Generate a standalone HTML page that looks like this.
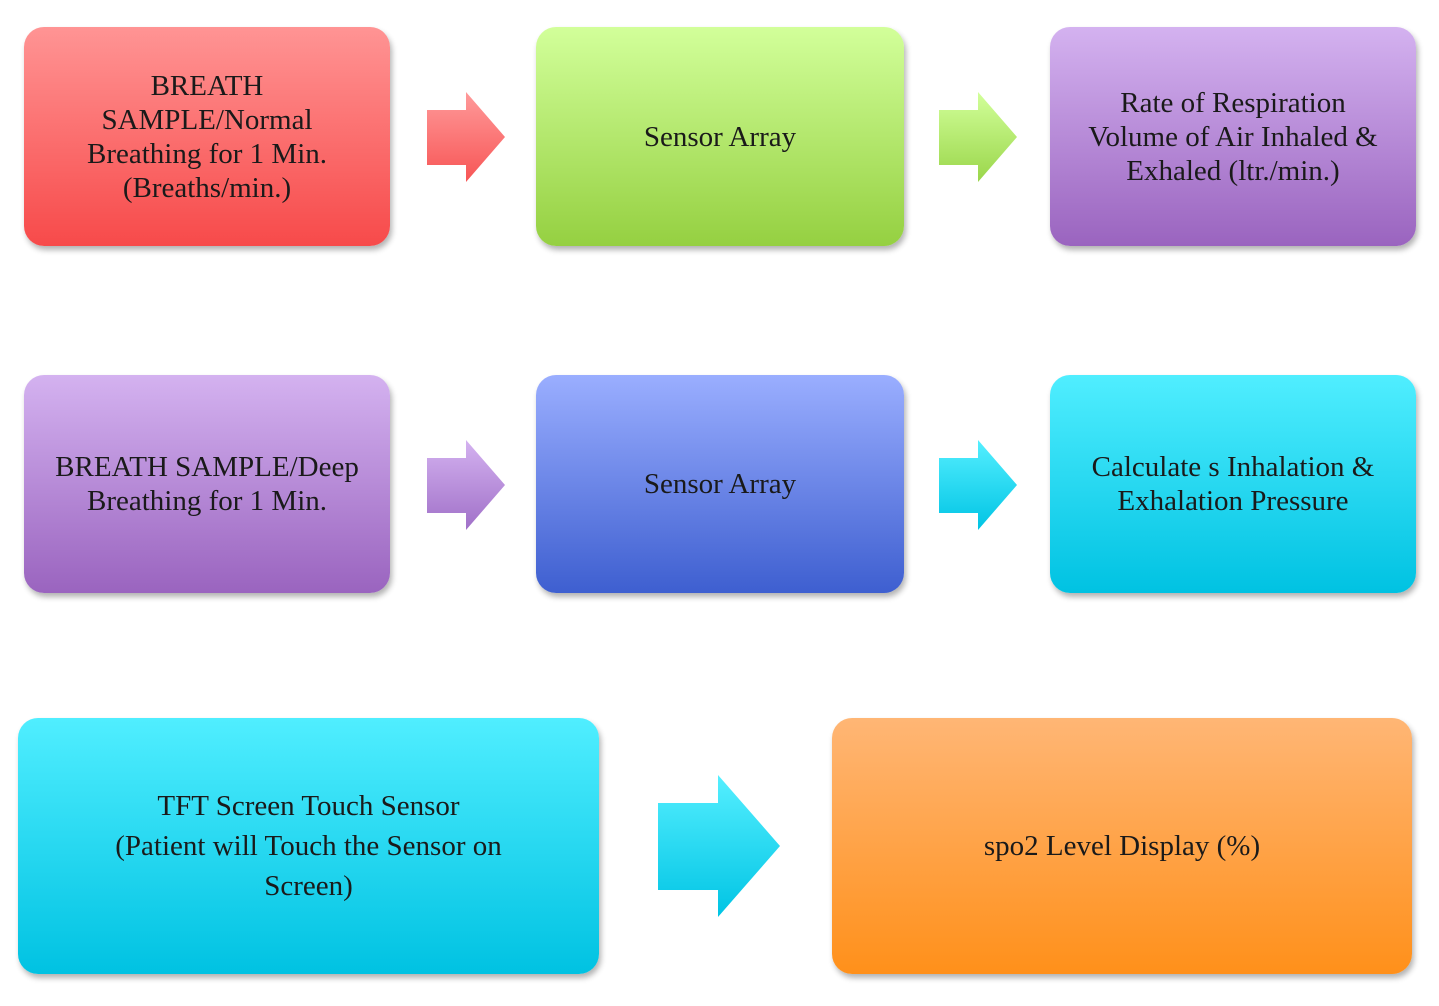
<!DOCTYPE html>
<html><head><style>
body{margin:0;width:1439px;height:1006px;background:#fff;position:relative;overflow:hidden;font-family:"Liberation Serif",serif;}
.b{position:absolute;border-radius:20px;display:flex;align-items:center;justify-content:center;text-align:center;font-size:29px;line-height:34px;color:#1a1a1a;box-shadow:2px 4px 6px rgba(0,0,0,0.3);}
svg{position:absolute;overflow:visible}
</style></head><body>
<div class="b" style="left:24px;top:27px;width:366px;height:219px;background:linear-gradient(#ff9494,#f74a4a)">BREATH<br>SAMPLE/Normal<br>Breathing for 1 Min.<br>(Breaths/min.)</div>
<div class="b" style="left:536px;top:27px;width:368px;height:219px;background:linear-gradient(#d2ff9a,#95d041)">Sensor Array</div>
<div class="b" style="left:1050px;top:27px;width:366px;height:219px;background:linear-gradient(#d4b2f0,#9a64bf)">Rate of Respiration<br>Volume of Air Inhaled &amp;<br>Exhaled (ltr./min.)</div>

<div class="b" style="left:24px;top:375px;width:366px;height:218px;background:linear-gradient(#d4b2f0,#9a64bf)">BREATH SAMPLE/Deep<br>Breathing for 1 Min.</div>
<div class="b" style="left:536px;top:375px;width:368px;height:218px;background:linear-gradient(#9aaeff,#3e5fd0)">Sensor Array</div>
<div class="b" style="left:1050px;top:375px;width:366px;height:218px;background:linear-gradient(#50eeff,#00c2e2)">Calculate s Inhalation &amp;<br>Exhalation Pressure</div>

<div class="b" style="left:18px;top:718px;width:581px;height:256px;background:linear-gradient(#50eeff,#00c2e2);line-height:40px">TFT Screen Touch Sensor<br>(Patient will Touch the Sensor on<br>Screen)</div>
<div class="b" style="left:832px;top:718px;width:580px;height:256px;background:linear-gradient(#ffb675,#ff901a)">spo2 Level Display (%)</div>

<svg width="1439" height="1006" style="left:0;top:0">
<defs>
<linearGradient id="r" x1="0" y1="0" x2="0" y2="1"><stop offset="0" stop-color="#ff9a9a"/><stop offset="1" stop-color="#f75555"/></linearGradient>
<linearGradient id="g" x1="0" y1="0" x2="0" y2="1"><stop offset="0" stop-color="#d2ff9a"/><stop offset="1" stop-color="#9ad64a"/></linearGradient>
<linearGradient id="p" x1="0" y1="0" x2="0" y2="1"><stop offset="0" stop-color="#d4b2f0"/><stop offset="1" stop-color="#a070c8"/></linearGradient>
<linearGradient id="c" x1="0" y1="0" x2="0" y2="1"><stop offset="0" stop-color="#55efff"/><stop offset="1" stop-color="#00c4e4"/></linearGradient>
</defs>
<path d="M427 110H466V92L505 137L466 182V165H427Z" fill="url(#r)"/>
<path d="M939 110H978V92L1017 137L978 182V165H939Z" fill="url(#g)"/>
<path d="M427 458H466V440L505 485L466 530V513H427Z" fill="url(#p)"/>
<path d="M939 458H978V440L1017 485L978 530V513H939Z" fill="url(#c)"/>
<path d="M658 803H718V775L780 846L718 917V890H658Z" fill="url(#c)"/>
</svg>
</body></html>
